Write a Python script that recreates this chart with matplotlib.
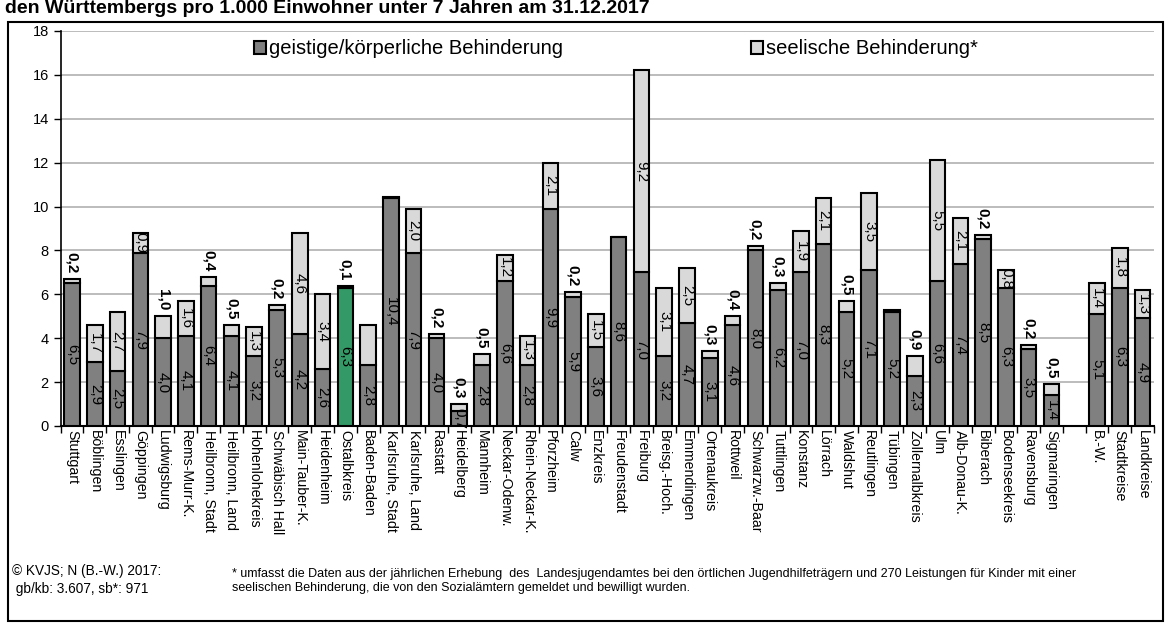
import numpy as np
import matplotlib
matplotlib.use("Agg")
import matplotlib.pyplot as plt
from matplotlib.patches import Rectangle

plt.rcParams['font.family'] = ['Liberation Sans', 'DejaVu Sans']

# data
kreise = ["Stuttgart", "Böblingen", "Esslingen", "Göppingen", "Ludwigsburg", "Rems-Murr-K.",
          "Heilbronn, Stadt", "Heilbronn, Land", "Hohenlohekreis", "Schwäbisch Hall",
          "Main-Tauber-K.", "Heidenheim", "Ostalbkreis", "Baden-Baden", "Karlsruhe, Stadt",
          "Karlsruhe, Land", "Rastatt", "Heidelberg", "Mannheim", "Neckar-Odenw.",
          "Rhein-Neckar-K.", "Pforzheim", "Calw", "Enzkreis", "Freudenstadt", "Freiburg",
          "Breisg.-Hoch.", "Emmendingen", "Ortenaukreis", "Rottweil", "Schwarzw.-Baar",
          "Tuttlingen", "Konstanz", "Lörrach", "Waldshut", "Reutlingen", "Tübingen",
          "Zollernalbkreis", "Ulm", "Alb-Donau-K.", "Biberach", "Bodenseekreis",
          "Ravensburg", "Sigmaringen"]
kreise_gb = [6.5, 2.9, 2.5, 7.9, 4.0, 4.1, 6.4, 4.1, 3.2, 5.3, 4.2, 2.6, 6.3, 2.8, 10.4,
             7.9, 4.0, 0.7, 2.8, 6.6, 2.8, 9.9, 5.9, 3.6, 8.6, 7.0, 3.2, 4.7, 3.1, 4.6, 8.0,
             6.2, 7.0, 8.3, 5.2, 7.1, 5.2, 2.3, 6.6, 7.4, 8.5, 6.3, 3.5, 1.4]
kreise_sb = [0.2, 1.7, 2.7, 0.9, 1.0, 1.6, 0.4, 0.5, 1.3, 0.2, 4.6, 3.4, 0.1, 1.8, 0.05,
             2.0, 0.2, 0.3, 0.5, 1.2, 1.3, 2.1, 0.2, 1.5, 0.0, 9.2, 3.1, 2.5, 0.3, 0.4, 0.2,
             0.3, 1.9, 2.1, 0.5, 3.5, 0.1, 0.9, 5.5, 2.1, 0.2, 0.8, 0.2, 0.5]

summen = ["B.-W.", "Stadtkreise", "Landkreise"]
summen_gb = [5.1, 6.3, 4.9]
summen_sb = [1.4, 1.8, 1.3]

# light labels written above the bar, and light segments without a label
label_oben = {"Stuttgart", "Ludwigsburg", "Heilbronn, Stadt", "Heilbronn, Land",
              "Schwäbisch Hall", "Ostalbkreis", "Rastatt", "Heidelberg", "Mannheim", "Calw",
              "Ortenaukreis", "Rottweil", "Schwarzw.-Baar", "Tuttlingen", "Waldshut",
              "Zollernalbkreis", "Biberach", "Ravensburg", "Sigmaringen"}
ohne_label = {"Baden-Baden", "Karlsruhe, Stadt", "Freudenstadt", "Tübingen"}

namen = kreise + summen
gb = np.array(kreise_gb + summen_gb)
sb = np.array(kreise_sb + summen_sb)
x = np.r_[np.arange(len(kreise)), np.arange(len(summen)) + len(kreise) + 1]

dunkel = ['#339966' if n == "Ostalbkreis" else '#808080' for n in namen]

fig = plt.figure(figsize=(11.7, 6.26), dpi=100)
ax = fig.add_axes([0.0518, 0.3195, 0.9345, 0.631])

ax.bar(x, gb, width=0.68, color=dunkel, edgecolor='black', linewidth=1.5, zorder=3,
       label='geistige/körperliche Behinderung')
ax.bar(x, sb, width=0.68, bottom=gb, color='#D9D9D9', edgecolor='black', linewidth=1.5,
       zorder=3, label='seelische Behinderung*')

def fmt(v):
    return f"{v:.1f}".replace('.', ',')

for xi, n, a, b in zip(x, namen, gb, sb):
    ax.text(xi, a / 2, fmt(a), rotation=-90, ha='center', va='center',
            fontsize=11, zorder=4)
    if n in ohne_label:
        continue
    if n in label_oben:
        ax.annotate(fmt(b), (xi, a + b), xytext=(0, 4), textcoords='offset points',
                    rotation=-90, ha='center', va='bottom', fontsize=11,
                    fontweight='bold', zorder=4)
    else:
        ax.text(xi, a + b / 2, fmt(b), rotation=-90, ha='center', va='center',
                fontsize=11, zorder=4)

ax.set_xlim(-0.5, len(kreise) + len(summen) + 0.5)
ax.set_ylim(0, 18)
ax.set_yticks(np.arange(0, 19, 2))
ax.tick_params(axis='y', labelsize=10.5, length=5, width=1, direction='out')
ax.set_xticks(x)
ax.set_xticklabels(namen, rotation=-90, fontsize=10.2, va='top', ha='center')
ax.tick_params(axis='x', which='major', length=0, pad=3)
ax.set_xticks(np.arange(-0.5, len(kreise) + len(summen) + 1), minor=True)
ax.tick_params(axis='x', which='minor', length=5, width=1)

ax.yaxis.grid(True, color='#B0B0B0', linewidth=1.2, zorder=0)
ax.set_axisbelow(True)
for s in ['top', 'right']:
    ax.spines[s].set_visible(False)
ax.spines['left'].set_linewidth(1.2)
ax.spines['bottom'].set_linewidth(1.5)

ax.legend(loc='upper center', bbox_to_anchor=(0.508, 1.025), ncol=2, frameon=False,
          fontsize=14.5, handlelength=0.6, handleheight=0.6, handletextpad=0.15,
          columnspacing=9.3)

# title line, cut off at the top as in the reference
fig.text(0.004, 1 - 13 / 626, "den Württembergs pro 1.000 Einwohner unter 7 Jahren am 31.12.2017",
         fontsize=14, fontweight='bold', va='baseline', ha='left')

fig.patches.append(Rectangle((8 / 1170, 5 / 626), 1155 / 1170, 599 / 626,
                             transform=fig.transFigure, fill=False,
                             edgecolor='black', linewidth=1.5))

fig.text(12 / 1170, 1 - 580 / 626, "© KVJS; N (B.-W.) 2017:\n gb/kb: 3.607, sb*: 971",
         fontsize=9.8, va='center', ha='left', linespacing=1.3)
fig.text(232 / 1170, 1 - 581 / 626,
         "* umfasst die Daten aus der jährlichen Erhebung  des  Landesjugendamtes bei den "
         "örtlichen Jugendhilfeträgern und 270 Leistungen für Kinder mit einer\n"
         "seelischen Behinderung, die von den Sozialämtern gemeldet und bewilligt wurden.",
         fontsize=9.0, va='center', ha='left', linespacing=1.2)

fig.savefig('out.png', dpi=100)
